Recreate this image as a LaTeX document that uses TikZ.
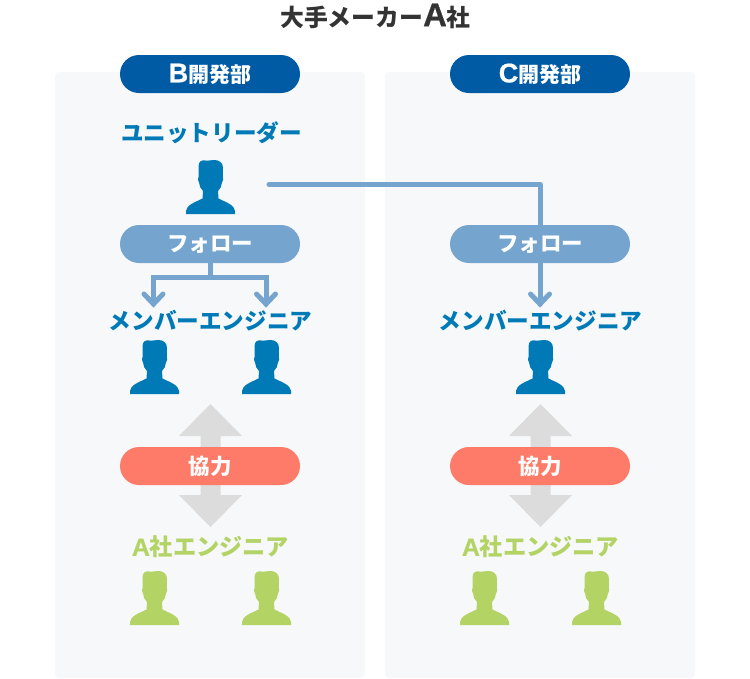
\documentclass[tikz,border=0pt]{standalone}
\usepackage{fontspec}
\newfontfamily\jp{Noto Sans CJK JP}
\newfontfamily\lat{Liberation Sans}[UprightFont=* Bold,UprightFeatures={FakeBold=0.6}]
\definecolor{panelbg}{HTML}{F7F8FA}
\definecolor{deptblue}{HTML}{005BA4}
\definecolor{labelblue}{HTML}{007AB7}
\definecolor{followblue}{HTML}{75A5CE}
\definecolor{coral}{HTML}{FF7B69}
\definecolor{leaf}{HTML}{B3D465}
\definecolor{arrowgray}{HTML}{DCDCDC}
\definecolor{titleink}{HTML}{333333}
\usetikzlibrary{shapes.misc}
\tikzset{
  x=1pt,y=-1pt,
  panel/.style={fill=panelbg,rounded corners=4pt},
  pill/.style={rounded rectangle,minimum width=180pt,minimum height=38pt,inner sep=0pt,text=white,font=\jp\bfseries\fontsize{21.5}{24}\selectfont},
  deptpill/.style={pill,fill=deptblue,font=\jp\bfseries\fontsize{21}{24}\selectfont},
  label/.style={inner sep=0pt,font=\jp\bfseries\fontsize{22.6}{26}\selectfont},
  conn/.style={draw=followblue,line width=5pt},
  chev/.style={draw=followblue,line width=5pt,line cap=round,line join=miter},
  person/.pic={\fill[pic actions] (-24.5,54) -- (-24.5,51) .. controls (-24,45) and (-16,42.5) .. (-8,38.5)
     -- (-7.5,31) .. controls (-10,29) and (-11,26) .. (-11.5,22.5)
     .. controls (-13,21) and (-12.5,18) .. (-12,17)
     -- (-12,6) .. controls (-11.5,1) and (-9,0) .. (-5,0.5)
     .. controls (-1,0.8) and (1,0) .. (4,0)
     .. controls (9,0) and (12.5,3) .. (12.5,8)
     -- (12.3,17) .. controls (13,18) and (13,21) .. (11.5,22.5)
     .. controls (11,26) and (10,29) .. (7.5,31)
     -- (8,38.5) .. controls (16,42.5) and (24,45) .. (24.5,51) -- (24.5,54) -- cycle;},
}
\newcommand{\dblarrow}[1]{%
  \fill[arrowgray] (#1,404) -- (#1+31.5,436) -- (#1+10,436) -- (#1+10,495) -- (#1+31.5,495) -- (#1,527) -- (#1-31.5,495) -- (#1-10,495) -- (#1-10,436) -- (#1-31.5,436) -- cycle;}
\newcommand{\latin}[2]{{\lat\mdseries\fontsize{#1}{26}\selectfont #2}}
\begin{document}
\begin{tikzpicture}
\useasboundingbox (0,0) rectangle (750,678);
\fill[panel] (55,72) rectangle (365,678);
\fill[panel] (385,72) rectangle (695,678);
\node[inner sep=0pt,text=titleink,font=\jp\bfseries\fontsize{23.8}{26}\selectfont] (title) at (375.5,16) {大手メーカー\latin{33}{A}社};
% department pills
\node[deptpill] (deptB) at (210,74) {\raisebox{-1pt}{\latin{27}{B}開発部}};
\node[deptpill] (deptC) at (540,74) {\raisebox{-1pt}{\latin{27}{C}開発部}};
% gray arrows
\dblarrow{210.5}
\dblarrow{540.5}
% people
\pic[fill=labelblue] at (210.5,160) {person};
\pic[fill=labelblue] at (154.5,340) {person};
\pic[fill=labelblue] at (266.5,340) {person};
\pic[fill=labelblue] at (540.5,340) {person};
\pic[fill=leaf] at (154.5,571) {person};
\pic[fill=leaf] at (266.5,571) {person};
\pic[fill=leaf] at (484.5,571) {person};
\pic[fill=leaf] at (596.5,571) {person};
% labels
\node[label,text=labelblue] (leader) at (211.5,133) {ユニットリーダー};
\node[label,text=labelblue] (memberB) at (210.5,321) {メンバーエンジニア};
\node[label,text=labelblue] (memberC) at (540.5,321) {メンバーエンジニア};
\node[label,text=leaf,font=\jp\bfseries\fontsize{23.2}{26}\selectfont] (aB) at (210.5,547) {\latin{25}{A}社エンジニア};
\node[label,text=leaf,font=\jp\bfseries\fontsize{23.2}{26}\selectfont] (aC) at (540.5,547) {\latin{25}{A}社エンジニア};
% connectors
\coordinate (leaderOut) at (269,184.5);
\coordinate (tipC) at (540,304);
\coordinate (tipL) at (153.5,304);
\coordinate (tipR) at (266,304);
\coordinate (bus) at (210,277);
\draw[conn,line cap=round,line join=round] (leaderOut) -| (tipC);
\draw[chev] (530.5,294) -- (tipC) -- (549.5,294);
% follow pills
\node[pill,fill=followblue] (followB) at (210,244) {\raisebox{-1pt}{フォロー}};
\node[pill,fill=followblue] (followC) at (540,244) {\raisebox{-1pt}{フォロー}};
\draw[conn,line join=miter] (followB.south) -- (bus);
\draw[conn,line join=miter] (tipL) |- (bus) -| (tipR);
\draw[chev] (144,294) -- (tipL) -- (163,294);
\draw[chev] (256.5,294) -- (tipR) -- (275.5,294);
% cooperation pills
\node[pill,fill=coral] (kyoB) at (210,466) {協力};
\node[pill,fill=coral] (kyoC) at (540,466) {協力};
\end{tikzpicture}
\end{document}
